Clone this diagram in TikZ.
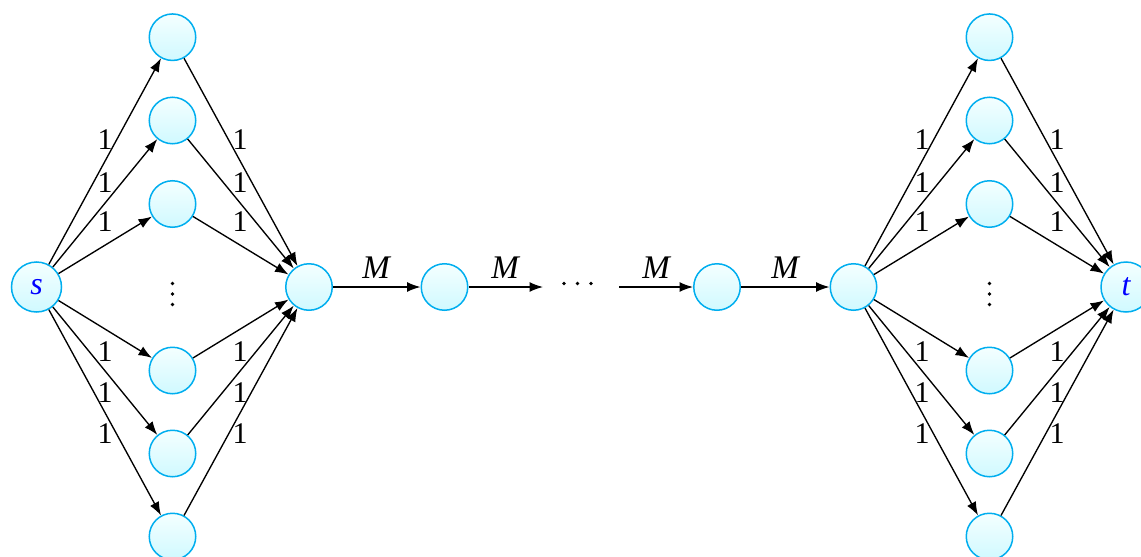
\documentclass[tikz,border=0pt]{standalone}
\usepackage{fontspec}
\setmainfont{Liberation Serif}
\usetikzlibrary{arrows.meta}
\definecolor{nodeborder}{RGB}{0,174,239}
\definecolor{filltop}{RGB}{244,255,255}
\definecolor{fillbot}{RGB}{208,249,255}
\tikzset{
  vert/.style={circle, draw=nodeborder, line width=1.5pt, top color=filltop, bottom color=fillbot, minimum size=46.5pt, inner sep=0pt},
  term/.style={vert, minimum size=50pt, text=blue, font=\fontsize{32}{36}\selectfont\itshape},
  edge/.style={line width=1.35pt, -{Latex[length=13.5pt,width=10pt]}},
  one/.style={font=\fontsize{30}{34}\selectfont, inner sep=0pt},
  mlabel/.style={font=\fontsize{33}{36}\selectfont\itshape, inner sep=0pt},
  dotmark/.style={fill=black},
}
\begin{document}
\begin{tikzpicture}[x=1pt,y=-1pt]
\useasboundingbox (0,0) rectangle (1141,557);
% left cluster
\node[term] (s) at (36.5,287) {s};
\node[vert] (L1) at (172.5,37.2) {};
\node[vert] (L2) at (172.5,120.5) {};
\node[vert] (L3) at (172.5,204) {};
\node[vert] (L4) at (172.5,370.5) {};
\node[vert] (L5) at (172.5,453.5) {};
\node[vert] (L6) at (172.5,536.5) {};
\node[vert] (H1) at (309,287) {};
\foreach \y in {283.5,294,304.5} \fill[dotmark] (172.5,\y) circle (1.9);
\foreach \i in {1,...,6} {
  \draw[edge] (s) -- (L\i);
  \draw[edge] (L\i) -- (H1);
}
\node[one] (la1) at (105,140) {1};
\node[one] (la2) at (105,183) {1};
\node[one] (la3) at (105,222) {1};
\node[one] (la4) at (105,352) {1};
\node[one] (la5) at (105,393) {1};
\node[one] (la6) at (105,434) {1};
\node[one] (lb1) at (240,140) {1};
\node[one] (lb2) at (240,183) {1};
\node[one] (lb3) at (240,222) {1};
\node[one] (lb4) at (240,352) {1};
\node[one] (lb5) at (240,393) {1};
\node[one] (lb6) at (240,434) {1};
% middle chain
\node[vert] (N2) at (444.5,287) {};
\node[vert] (N3) at (717,287) {};
\coordinate (c1) at (543,287);
\coordinate (c2) at (619,287);
\foreach \x in {564,577.5,591} \fill[dotmark] (\x,283.5) circle (1.9);
% right cluster
\node[vert] (R0) at (853.5,287) {};
\node[vert] (R1) at (989.5,37.2) {};
\node[vert] (R2) at (989.5,120.5) {};
\node[vert] (R3) at (989.5,204) {};
\node[vert] (R4) at (989.5,370.5) {};
\node[vert] (R5) at (989.5,453.5) {};
\node[vert] (R6) at (989.5,536.5) {};
\node[term] (t) at (1126,287) {t};
\foreach \y in {283.5,294,304.5} \fill[dotmark] (989.5,\y) circle (1.9);
\foreach \i in {1,...,6} {
  \draw[edge] (R0) -- (R\i);
  \draw[edge] (R\i) -- (t);
}
\node[one] (ra1) at (922,140) {1};
\node[one] (ra2) at (922,183) {1};
\node[one] (ra3) at (922,222) {1};
\node[one] (ra4) at (922,352) {1};
\node[one] (ra5) at (922,393) {1};
\node[one] (ra6) at (922,434) {1};
\node[one] (rb1) at (1057,140) {1};
\node[one] (rb2) at (1057,183) {1};
\node[one] (rb3) at (1057,222) {1};
\node[one] (rb4) at (1057,352) {1};
\node[one] (rb5) at (1057,393) {1};
\node[one] (rb6) at (1057,434) {1};
% chain edges
\draw[edge] (H1) -- (N2);
\draw[edge] (N2) -- (c1);
\draw[edge] (c2) -- (N3);
\draw[edge] (N3) -- (R0);
\node[mlabel] (m1) at (376,267.5) {M};
\node[mlabel] (m2) at (505,267.5) {M};
\node[mlabel] (m3) at (656,267.5) {M};
\node[mlabel] (m4) at (785,267.5) {M};
\end{tikzpicture}
\end{document}
